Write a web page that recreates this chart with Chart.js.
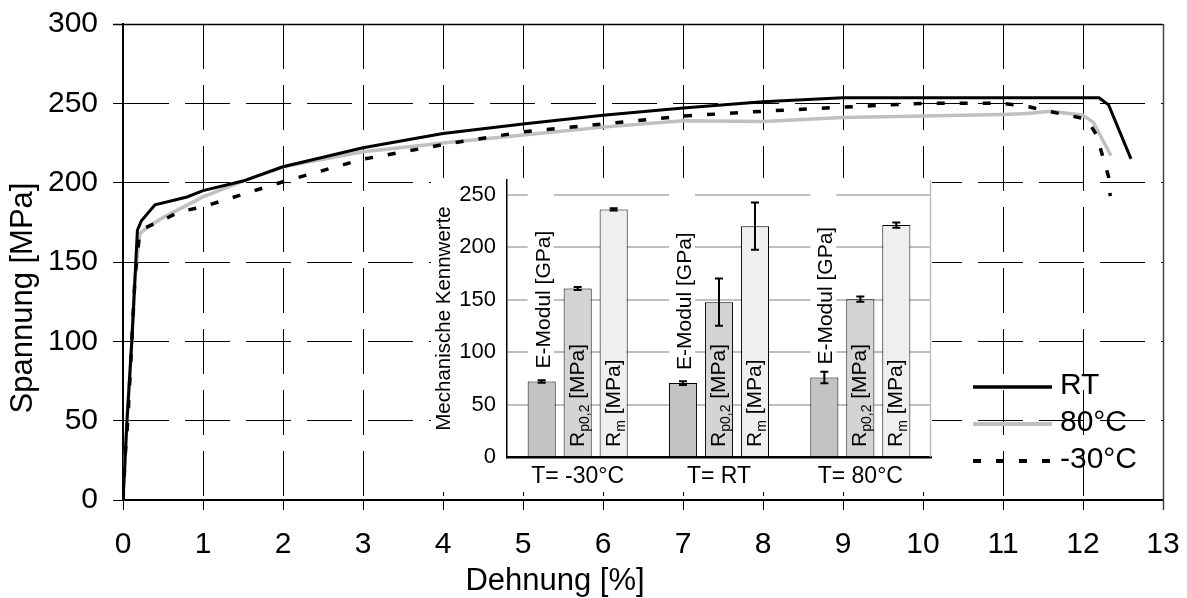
<!DOCTYPE html>
<html><head><meta charset="utf-8">
<script src="https://cdn.jsdelivr.net/npm/chart.js@4.4.0/dist/chart.umd.min.js"></script>
<style>
html,body{margin:0;padding:0;background:#fff;}
#wrap{position:relative;width:1187px;height:598px;overflow:hidden;}
#main{position:absolute;left:0;top:0;}
#inset{position:absolute;left:431px;top:178px;background:#fff;}
</style></head><body>
<div id="wrap"><canvas id="main" width="1187" height="598"></canvas><canvas id="inset" width="501" height="314"></canvas></div>
<script>
const FONT = "'Liberation Sans', Arial, sans-serif";

// ---- main chart data: Spannung [MPa] vs. Dehnung [%] ----
const rtStrain  = [0, 0.05, 0.11, 0.15, 0.18, 0.23, 0.4, 0.8, 1.0, 1.5, 2.0, 3.0, 4.0, 5.0, 6.0, 7.0, 8.0, 9.0, 10, 11, 12.2, 12.32, 12.6];
const rtStress  = [0, 50, 100, 140, 170, 176, 186, 191, 195, 201, 210, 222, 231, 237, 242.5, 247, 251, 253.5, 253.5, 253.5, 253.5, 249, 215];
const t80Strain = [0, 0.05, 0.11, 0.15, 0.21, 0.34, 0.5, 1.0, 1.5, 2.0, 3.0, 4.0, 5.0, 6.0, 7.0, 8.0, 9.0, 10, 11, 11.3, 11.6, 12.0, 12.13, 12.35];
const t80Stress = [0, 50, 100, 140, 168, 173, 178, 191, 201, 210, 219.5, 225, 230, 235, 239, 238.5, 241, 242, 243, 243.6, 245, 242.5, 238, 217];
const tm30Strain = [0, 0.03, 0.06, 0.11, 0.15, 0.2, 0.25, 0.48, 0.71, 1.0, 1.3, 2.0, 3.0, 4.0, 5.0, 6.0, 7.0, 8.0, 9.0, 10, 11, 11.32, 11.6, 12.05, 12.17, 12.32, 12.34];
const tm30Stress = [0, 30, 50, 100, 140, 165, 171, 176, 181.7, 184.8, 189.5, 200.6, 214.8, 224, 232, 237, 242, 245, 247.6, 250, 250, 247.8, 244.7, 240, 230, 203.7, 191.5];
const seriesNames = ['RT', '80°C', '-30°C'];

// ---- inset data: Mechanische Kennwerte ----
const insetCategories = ['T= -30°C', 'T= RT', 'T= 80°C'];
const insetTicks = [0, 50, 100, 150, 200, 250];
const eModul    = [72, 70.5, 75.7];
const eModulErr = [1.2, 1.8, 5.5];
const rp02      = [160.6, 147.6, 150.4];
const rp02Err   = [1.5, 22.5, 2.5];
const rm        = [236, 220, 221];
const rmErr     = [1, 22.5, 2.5];

function pts(xs, ys) { return xs.map((x, i) => ({ x: x, y: ys[i] })); }
function noPad(s) { s.paddingTop = 0; s.paddingBottom = 0; s.paddingLeft = 0; s.paddingRight = 0; }

const mainPlugin = {
  id: 'mainDeco',
  afterDraw(chart) {
    const ctx = chart.ctx, a = chart.chartArea;
    ctx.save();
    ctx.lineWidth = 1.5;
    ctx.strokeStyle = '#000';
    ctx.beginPath(); ctx.moveTo(a.left - 10, Math.round(a.top) + 0.5); ctx.lineTo(a.right, Math.round(a.top) + 0.5); ctx.stroke();
    ctx.strokeStyle = '#444';
    ctx.beginPath(); ctx.moveTo(Math.round(a.right) + 0.5, a.top); ctx.lineTo(Math.round(a.right) + 0.5, a.bottom + 10); ctx.stroke();
    // axis titles
    ctx.fillStyle = '#000';
    ctx.font = '31px ' + FONT;
    ctx.textAlign = 'center';
    ctx.textBaseline = 'middle';
    ctx.fillText('Dehnung [%]', 555, 581);
    ctx.save();
    ctx.translate(23, 298);
    ctx.rotate(-Math.PI / 2);
    ctx.fillText('Spannung [MPa]', 0, 0);
    ctx.restore();
    // legend
    ctx.font = '30px ' + FONT;
    const ly = [387, 424, 461];
    chart.data.datasets.forEach((ds, i) => {
      ctx.save();
      ctx.strokeStyle = ds.borderColor;
      ctx.lineWidth = ds.borderWidth + 0.5;
      ctx.setLineDash(ds.borderDash || []);
      ctx.beginPath(); ctx.moveTo(973, ly[i]); ctx.lineTo(1052, ly[i]); ctx.stroke();
      ctx.restore();
      ctx.textAlign = 'left';
      ctx.fillText(ds.label, 1060, ly[i] - 1);
    });
    ctx.restore();
  }
};

new Chart(document.getElementById('main'), {
  type: 'scatter',
  data: {
    datasets: [
      { label: seriesNames[0], data: pts(rtStrain, rtStress), showLine: true, borderColor: '#000', borderWidth: 3, pointRadius: 0, tension: 0, order: 0 },
      { label: seriesNames[1], data: pts(t80Strain, t80Stress), showLine: true, borderColor: '#c0c0c0', borderWidth: 3.5, pointRadius: 0, tension: 0, order: 2 },
      { label: seriesNames[2], data: pts(tm30Strain, tm30Stress), showLine: true, borderColor: '#000', borderWidth: 3.5, borderDash: [8, 15], pointRadius: 0, tension: 0, order: 1 }
    ]
  },
  options: {
    responsive: false, animation: false, devicePixelRatio: 1,
    layout: { padding: { top: 24, right: 24, left: 0, bottom: 0 } },
    plugins: { legend: { display: false }, tooltip: { enabled: false } },
    scales: {
      x: {
        type: 'linear', min: 0, max: 13,
        ticks: { stepSize: 1, color: '#000', font: { family: FONT, size: 30 }, padding: 17, maxRotation: 0 },
        grid: { color: '#000', lineWidth: 1, tickLength: 10, tickColor: '#000', tickBorderDash: [] },
        border: { color: '#000', width: 2, dash: [45, 16] },
        afterFit(s) { s.height = 98; noPad(s); }
      },
      y: {
        type: 'linear', min: 0, max: 300,
        ticks: { stepSize: 50, color: '#000', font: { family: FONT, size: 30 }, padding: 15 },
        grid: { color: '#000', lineWidth: 1, tickLength: 10, tickColor: '#000', tickBorderDash: [] },
        border: { color: '#000', width: 2, dash: [45, 16] },
        afterFit(s) { s.width = 123; noPad(s); }
      }
    }
  },
  plugins: [mainPlugin]
});

// ---- inset ----
const errs = [eModulErr, rp02Err, rmErr];
function drawRich(ctx, parts) {
  let x = 0;
  parts.forEach(p => {
    ctx.font = p.size + 'px ' + FONT;
    ctx.fillText(p.t, x, p.dy || 0);
    x += ctx.measureText(p.t).width;
  });
}
const insetPlugin = {
  id: 'insetDeco',
  beforeDatasetsDraw(chart) {
    const ctx = chart.ctx, a = chart.chartArea;
    const meta = chart.getDatasetMeta(0);
    ctx.save();
    ctx.fillStyle = '#fff';
    meta.data.forEach(b => {
      ctx.fillRect(b.x - b.width / 2, a.top, b.width - 2, b.y - a.top - 3);
    });
    ctx.restore();
  },
  afterDatasetsDraw(chart) {
    const ctx = chart.ctx, a = chart.chartArea, ys = chart.scales.y;
    ctx.save();
    ctx.strokeStyle = '#000';
    ctx.lineWidth = 2;
    chart.data.datasets.forEach((ds, di) => {
      chart.getDatasetMeta(di).data.forEach((b, i) => {
        const v = ds.data[i], e = errs[di][i];
        const y1 = ys.getPixelForValue(v - e), y2 = ys.getPixelForValue(v + e);
        ctx.beginPath();
        ctx.moveTo(b.x, y1); ctx.lineTo(b.x, y2);
        ctx.moveTo(b.x - 4, y1); ctx.lineTo(b.x + 4, y1);
        ctx.moveTo(b.x - 4, y2); ctx.lineTo(b.x + 4, y2);
        ctx.stroke();
      });
    });
    ctx.fillStyle = '#000';
    ctx.textAlign = 'left';
    ctx.textBaseline = 'alphabetic';
    const m0 = chart.getDatasetMeta(0).data, m1 = chart.getDatasetMeta(1).data, m2 = chart.getDatasetMeta(2).data;
    for (let i = 0; i < m0.length; i++) {
      ctx.save(); ctx.translate(m0[i].x + 8, m0[i].y - 13); ctx.rotate(-Math.PI / 2);
      drawRich(ctx, [{ t: 'E-Modul [GPa]', size: 21 }]); ctx.restore();
      ctx.save(); ctx.translate(m1[i].x + 6, a.bottom - 10); ctx.rotate(-Math.PI / 2);
      drawRich(ctx, [{ t: 'R', size: 21 }, { t: 'p0,2', size: 14, dy: 5 }, { t: ' [MPa]', size: 21 }]); ctx.restore();
      ctx.save(); ctx.translate(m2[i].x + 6, a.bottom - 10); ctx.rotate(-Math.PI / 2);
      drawRich(ctx, [{ t: 'R', size: 21 }, { t: 'm', size: 14, dy: 5 }, { t: ' [MPa]', size: 21 }]); ctx.restore();
    }
    ctx.restore();
  },
  afterDraw(chart) {
    const ctx = chart.ctx, a = chart.chartArea;
    ctx.save();
    ctx.strokeStyle = '#bfbfbf';
    ctx.lineWidth = 1.5;
    ctx.beginPath(); ctx.moveTo(a.right - 0.5, a.top); ctx.lineTo(a.right - 0.5, a.bottom); ctx.stroke();
    ctx.fillStyle = '#000';
    ctx.font = '20.5px ' + FONT;
    ctx.textAlign = 'center';
    ctx.textBaseline = 'middle';
    ctx.translate(13, (a.top + a.bottom) / 2);
    ctx.rotate(-Math.PI / 2);
    ctx.fillText('Mechanische Kennwerte', 0, 0);
    ctx.restore();
  }
};

new Chart(document.getElementById('inset'), {
  type: 'bar',
  data: {
    labels: insetCategories,
    datasets: [
      { label: 'E-Modul [GPa]', data: eModul, backgroundColor: '#c3c3c3', borderColor: '#000', borderWidth: 1 },
      { label: 'Rp0,2 [MPa]', data: rp02, backgroundColor: '#d4d4d4', borderColor: '#000', borderWidth: 1 },
      { label: 'Rm [MPa]', data: rm, backgroundColor: '#efefef', borderColor: '#000', borderWidth: 1 }
    ]
  },
  options: {
    responsive: false, animation: false, devicePixelRatio: 1,
    layout: { padding: { top: 2, right: 1, left: 0, bottom: 0 } },
    datasets: { bar: { categoryPercentage: 0.764, barPercentage: 0.78 } },
    plugins: { legend: { display: false }, tooltip: { enabled: false } },
    scales: {
      x: {
        grid: { display: false, drawTicks: false },
        border: { color: '#000', width: 2.5 },
        ticks: { color: '#000', font: { family: FONT, size: 23 }, padding: 6 },
        afterFit(s) { s.height = 35; noPad(s); }
      },
      y: {
        min: 0, max: 264,
        afterBuildTicks(s) { s.ticks = insetTicks.map(v => ({ value: v })); },
        ticks: { color: '#000', font: { family: FONT, size: 22 }, padding: 11 },
        grid: { color: '#bfbfbf', lineWidth: 2, drawTicks: false },
        border: { color: '#000', width: 1.5 },
        afterFit(s) { s.width = 76; noPad(s); }
      }
    }
  },
  plugins: [insetPlugin]
});
</script>
</body></html>
